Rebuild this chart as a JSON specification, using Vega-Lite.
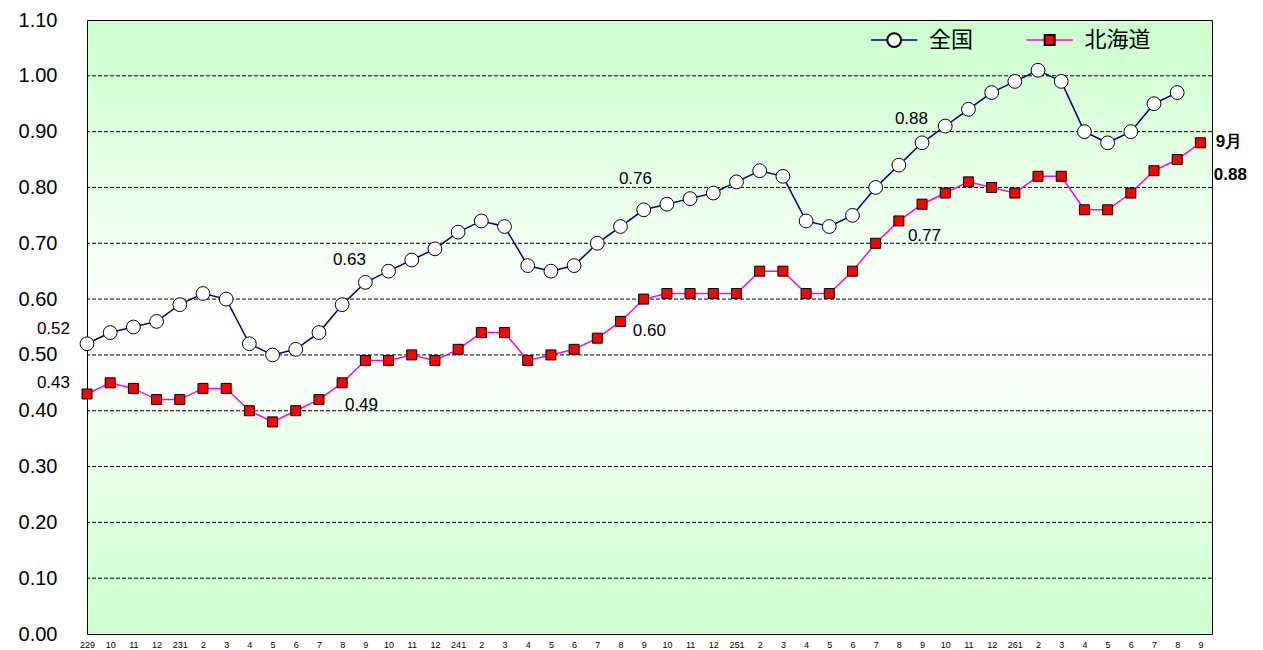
{
  "$schema": "https://vega.github.io/schema/vega-lite/v6.json",
  "width": 1125,
  "height": 614,
  "autosize": "none",
  "padding": {"left": 87, "top": 20, "right": 51, "bottom": 16},
  "background": "white",
  "config": {
    "font": "Liberation Sans",
    "view": {
      "stroke": "black",
      "strokeWidth": 1,
      "fill": {
        "gradient": "linear", "x1": 0, "y1": 0, "x2": 0, "y2": 1,
        "stops": [
          {"offset": 0, "color": "#ccffcc"},
          {"offset": 0.5, "color": "#ffffff"},
          {"offset": 1, "color": "#ccffcc"}
        ]
      }
    }
  },
  "datasets": {
    "rows": [
      {"i": 0, "zenkoku": 0.52, "hokkaido": 0.43},
      {"i": 1, "zenkoku": 0.54, "hokkaido": 0.45},
      {"i": 2, "zenkoku": 0.55, "hokkaido": 0.44},
      {"i": 3, "zenkoku": 0.56, "hokkaido": 0.42},
      {"i": 4, "zenkoku": 0.59, "hokkaido": 0.42},
      {"i": 5, "zenkoku": 0.61, "hokkaido": 0.44},
      {"i": 6, "zenkoku": 0.60, "hokkaido": 0.44},
      {"i": 7, "zenkoku": 0.52, "hokkaido": 0.40},
      {"i": 8, "zenkoku": 0.50, "hokkaido": 0.38},
      {"i": 9, "zenkoku": 0.51, "hokkaido": 0.40},
      {"i": 10, "zenkoku": 0.54, "hokkaido": 0.42},
      {"i": 11, "zenkoku": 0.59, "hokkaido": 0.45},
      {"i": 12, "zenkoku": 0.63, "hokkaido": 0.49},
      {"i": 13, "zenkoku": 0.65, "hokkaido": 0.49},
      {"i": 14, "zenkoku": 0.67, "hokkaido": 0.50},
      {"i": 15, "zenkoku": 0.69, "hokkaido": 0.49},
      {"i": 16, "zenkoku": 0.72, "hokkaido": 0.51},
      {"i": 17, "zenkoku": 0.74, "hokkaido": 0.54},
      {"i": 18, "zenkoku": 0.73, "hokkaido": 0.54},
      {"i": 19, "zenkoku": 0.66, "hokkaido": 0.49},
      {"i": 20, "zenkoku": 0.65, "hokkaido": 0.50},
      {"i": 21, "zenkoku": 0.66, "hokkaido": 0.51},
      {"i": 22, "zenkoku": 0.70, "hokkaido": 0.53},
      {"i": 23, "zenkoku": 0.73, "hokkaido": 0.56},
      {"i": 24, "zenkoku": 0.76, "hokkaido": 0.60},
      {"i": 25, "zenkoku": 0.77, "hokkaido": 0.61},
      {"i": 26, "zenkoku": 0.78, "hokkaido": 0.61},
      {"i": 27, "zenkoku": 0.79, "hokkaido": 0.61},
      {"i": 28, "zenkoku": 0.81, "hokkaido": 0.61},
      {"i": 29, "zenkoku": 0.83, "hokkaido": 0.65},
      {"i": 30, "zenkoku": 0.82, "hokkaido": 0.65},
      {"i": 31, "zenkoku": 0.74, "hokkaido": 0.61},
      {"i": 32, "zenkoku": 0.73, "hokkaido": 0.61},
      {"i": 33, "zenkoku": 0.75, "hokkaido": 0.65},
      {"i": 34, "zenkoku": 0.80, "hokkaido": 0.70},
      {"i": 35, "zenkoku": 0.84, "hokkaido": 0.74},
      {"i": 36, "zenkoku": 0.88, "hokkaido": 0.77},
      {"i": 37, "zenkoku": 0.91, "hokkaido": 0.79},
      {"i": 38, "zenkoku": 0.94, "hokkaido": 0.81},
      {"i": 39, "zenkoku": 0.97, "hokkaido": 0.80},
      {"i": 40, "zenkoku": 0.99, "hokkaido": 0.79},
      {"i": 41, "zenkoku": 1.01, "hokkaido": 0.82},
      {"i": 42, "zenkoku": 0.99, "hokkaido": 0.82},
      {"i": 43, "zenkoku": 0.90, "hokkaido": 0.76},
      {"i": 44, "zenkoku": 0.88, "hokkaido": 0.76},
      {"i": 45, "zenkoku": 0.90, "hokkaido": 0.79},
      {"i": 46, "zenkoku": 0.95, "hokkaido": 0.83},
      {"i": 47, "zenkoku": 0.97, "hokkaido": 0.85},
      {"i": 48, "zenkoku": null, "hokkaido": 0.88}
    ],
    "notes": [
      {"i": -2.16, "v": 0.546, "t": "0.52", "b": "normal"},
      {"i": 10.6, "v": 0.670, "t": "0.63", "b": "normal"},
      {"i": 22.93, "v": 0.815, "t": "0.76", "b": "normal"},
      {"i": 34.83, "v": 0.923, "t": "0.88", "b": "normal"},
      {"i": -2.16, "v": 0.450, "t": "0.43", "b": "normal"},
      {"i": 11.12, "v": 0.410, "t": "0.49", "b": "normal"},
      {"i": 23.53, "v": 0.543, "t": "0.60", "b": "normal"},
      {"i": 35.39, "v": 0.713, "t": "0.77", "b": "normal"},
      {"i": 48.66, "v": 0.881, "t": "9月", "b": "bold"},
      {"i": 48.58, "v": 0.822, "t": "0.88", "b": "bold"}
    ],
    "leg": [
      {"x1": 33.8, "x2": 35.8, "xm": 34.8, "tx": 36.3, "y": 1.064, "s": "全国"},
      {"x1": 40.5, "x2": 42.5, "xm": 41.5, "tx": 43.0, "y": 1.064, "s": "北海道"}
    ]
  },
  "encoding": {
    "x": {
      "field": "i", "type": "quantitative",
      "scale": {"domain": [0, 48.5], "nice": false, "zero": false},
      "axis": {
        "title": null, "grid": false, "domain": false, "ticks": false,
        "values": [0,1,2,3,4,5,6,7,8,9,10,11,12,13,14,15,16,17,18,19,20,21,22,23,24,25,26,27,28,29,30,31,32,33,34,35,36,37,38,39,40,41,42,43,44,45,46,47,48],
        "labelExpr": "['229','10','11','12','231','2','3','4','5','6','7','8','9','10','11','12','241','2','3','4','5','6','7','8','9','10','11','12','251','2','3','4','5','6','7','8','9','10','11','12','261','2','3','4','5','6','7','8','9'][datum.value]",
        "labelFontSize": 9, "labelPadding": 6, "labelColor": "black", "labelFlush": false
      }
    }
  },
  "layer": [
    {
      "mark": {"type": "rule", "color": "black", "strokeDash": [4, 2], "strokeWidth": 1},
      "data": {"values": [{"y": 0.1}, {"y": 0.2}, {"y": 0.3}, {"y": 0.4}, {"y": 0.5}, {"y": 0.6}, {"y": 0.7}, {"y": 0.8}, {"y": 0.9}, {"y": 1.0}]},
      "encoding": {
        "x": null,
        "y": {
          "field": "y", "type": "quantitative",
          "scale": {"domain": [0, 1.1], "nice": false},
          "axis": {
            "title": null, "grid": false, "domain": false, "ticks": false,
            "values": [0, 0.1, 0.2, 0.3, 0.4, 0.5, 0.6, 0.7, 0.8, 0.9, 1.0, 1.1],
            "format": ".2f", "labelFontSize": 20, "labelPadding": 30,
            "labelColor": "black", "labelFlush": false
          }
        }
      }
    },
    {
      "data": {"name": "rows"},
      "mark": {"type": "line", "color": "#000080", "strokeWidth": 1.5},
      "encoding": {"y": {"field": "zenkoku", "type": "quantitative"}}
    },
    {
      "data": {"name": "rows"},
      "mark": {"type": "line", "color": "#ff00ff", "strokeWidth": 1.5},
      "encoding": {"y": {"field": "hokkaido", "type": "quantitative"}}
    },
    {
      "data": {"name": "rows"},
      "mark": {"type": "point", "shape": "circle", "size": 190, "filled": true, "fill": "white", "stroke": "black", "strokeWidth": 1, "opacity": 1},
      "encoding": {"y": {"field": "zenkoku", "type": "quantitative"}}
    },
    {
      "data": {"name": "rows"},
      "mark": {"type": "point", "shape": "square", "size": 100, "filled": true, "fill": "#ff0000", "stroke": "black", "strokeWidth": 1, "opacity": 1},
      "encoding": {"y": {"field": "hokkaido", "type": "quantitative"}}
    },
    {
      "data": {"name": "notes"},
      "transform": [{"filter": "datum.b == 'normal'"}],
      "mark": {"type": "text", "fontSize": 17, "color": "black", "align": "left", "baseline": "middle"},
      "encoding": {
        "y": {"field": "v", "type": "quantitative"},
        "text": {"field": "t"}
      }
    },
    {
      "data": {"name": "notes"},
      "transform": [{"filter": "datum.b == 'bold'"}],
      "mark": {"type": "text", "fontSize": 17, "fontWeight": "bold", "color": "black", "align": "left", "baseline": "middle"},
      "encoding": {
        "y": {"field": "v", "type": "quantitative"},
        "text": {"field": "t"}
      }
    },
    {
      "data": {"name": "leg"},
      "transform": [{"filter": "datum.s == '全国'"}],
      "mark": {"type": "rule", "color": "#000080", "strokeWidth": 1.5},
      "encoding": {"x": {"field": "x1", "type": "quantitative"}, "x2": {"field": "x2"}, "y": {"field": "y", "type": "quantitative"}}
    },
    {
      "data": {"name": "leg"},
      "transform": [{"filter": "datum.s == '北海道'"}],
      "mark": {"type": "rule", "color": "#ff00ff", "strokeWidth": 1.5},
      "encoding": {"x": {"field": "x1", "type": "quantitative"}, "x2": {"field": "x2"}, "y": {"field": "y", "type": "quantitative"}}
    },
    {
      "data": {"name": "leg"},
      "transform": [{"filter": "datum.s == '全国'"}],
      "mark": {"type": "point", "shape": "circle", "size": 190, "filled": true, "fill": "white", "stroke": "black", "opacity": 1},
      "encoding": {"x": {"field": "xm", "type": "quantitative"}, "y": {"field": "y", "type": "quantitative"}}
    },
    {
      "data": {"name": "leg"},
      "transform": [{"filter": "datum.s == '北海道'"}],
      "mark": {"type": "point", "shape": "square", "size": 100, "filled": true, "fill": "#ff0000", "stroke": "black", "opacity": 1},
      "encoding": {"x": {"field": "xm", "type": "quantitative"}, "y": {"field": "y", "type": "quantitative"}}
    },
    {
      "data": {"name": "leg"},
      "mark": {"type": "text", "fontSize": 22, "align": "left", "color": "black", "font": "Noto Sans CJK JP"},
      "encoding": {"x": {"field": "tx", "type": "quantitative"}, "y": {"field": "y", "type": "quantitative"}, "text": {"field": "s"}}
    }
  ]
}
